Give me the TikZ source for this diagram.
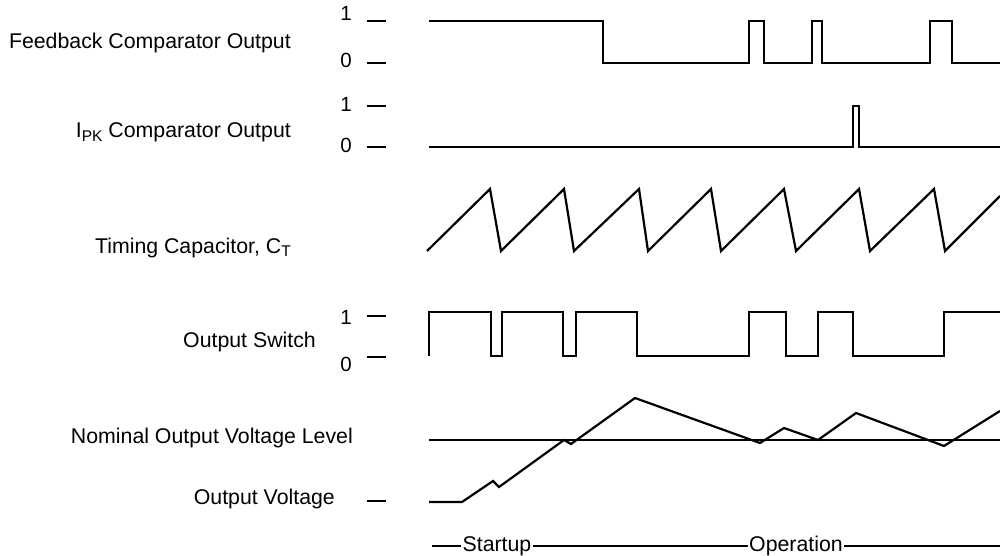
\documentclass[tikz,border=0pt]{standalone}
\usepackage{fontspec}
\setmainfont{Liberation Sans}
\begin{document}
\begin{tikzpicture}[x=1pt,y=-1pt,
  wave/.style={line width=2.2pt, line join=miter},
  ticks/.style={line width=2.2pt},
  lbl/.style={font=\fontsize{21.3}{24}\selectfont, inner sep=0pt},
  dig/.style={font=\fontsize{20.5}{24}\selectfont, inner sep=0pt, anchor=base},
  phase/.style={line width=1.6pt}]
\useasboundingbox (0,0) rectangle (1000,556);
\newcommand{\subtxt}[1]{\raisebox{-0.35ex}{\fontsize{15.5}{16}\selectfont #1}}
% signal labels
\node[lbl, anchor=base east] (lfb) at (291,49) {Feedback Comparator Output};
\node[lbl, anchor=base east] (lpk) at (291,138) {I\subtxt{PK} Comparator Output};
\node[lbl, anchor=base east] (lct) at (291,253) {Timing Capacitor, C\subtxt{T}};
\node[lbl, anchor=base east] (lsw) at (316,347) {Output Switch};
\node[lbl, anchor=base east] (lnom) at (353,443) {Nominal Output Voltage Level};
\node[lbl, anchor=base east] (lov) at (335,504) {Output Voltage};
% level digits
\node[dig] (d1a) at (346,21) {1};
\node[dig] (d0a) at (346,68) {0};
\node[dig] (d1b) at (346,112) {1};
\node[dig] (d0b) at (346,153) {0};
\node[dig] (d1c) at (346,324) {1};
\node[dig] (d0c) at (346,371) {0};
% ticks
\foreach \y in {21,63,106,147,316,357,501} \draw[ticks] (367,\y) -- (386,\y);
% Feedback comparator output
\draw[wave] (429,21) -- (603,21) -- (603,63) -- (749,63) -- (749,21) -- (764,21) -- (764,63)
  -- (812,63) -- (812,21) -- (822,21) -- (822,63) -- (930,63) -- (930,21) -- (952,21) -- (952,63) -- (1000,63);
% IPK comparator output
\draw[wave] (429,147) -- (853,147) -- (853,106) -- (859,106) -- (859,147) -- (1000,147);
% Timing capacitor
\draw[wave] (427,251) -- (490,189) -- (501,251) -- (564,189) -- (574,251) -- (639,189) -- (648,251)
  -- (711,189) -- (721,251) -- (784,189) -- (796,251) -- (859,189) -- (870,251) -- (934,189) -- (945,251) -- (1000,196);
% Output switch
\draw[wave] (429,356) -- (429,312) -- (491,312) -- (491,356) -- (502,356) -- (502,312) -- (563,312) -- (563,356)
  -- (576,356) -- (576,312) -- (637,312) -- (637,356) -- (749,356) -- (749,312) -- (786,312) -- (786,356)
  -- (818,356) -- (818,312) -- (853,312) -- (853,356) -- (944,356) -- (944,312) -- (1000,312);
% Nominal level
\draw[wave] (429,440) -- (1000,440);
% Output voltage
\draw[wave] (429,502) -- (462,502) -- (493,481) -- (499,487) -- (564,440) -- (571,444) -- (635,398)
  -- (760,443) -- (784,428) -- (818,440) -- (856,413) -- (944,446) -- (1000,411);
% phases
\node[lbl, inner sep=1pt, anchor=base] (st) at (497,551) {Startup};
\node[lbl, inner sep=1pt, anchor=base] (op) at (796,551) {Operation};
\coordinate (pl) at (432,546);
\coordinate (pr) at (1000,546);
\draw[phase] (pl) -- (pl -| st.west);
\draw[phase] (pl -| st.east) -- (pl -| op.west);
\draw[phase] (pl -| op.east) -- (pr);
\end{tikzpicture}
\end{document}
